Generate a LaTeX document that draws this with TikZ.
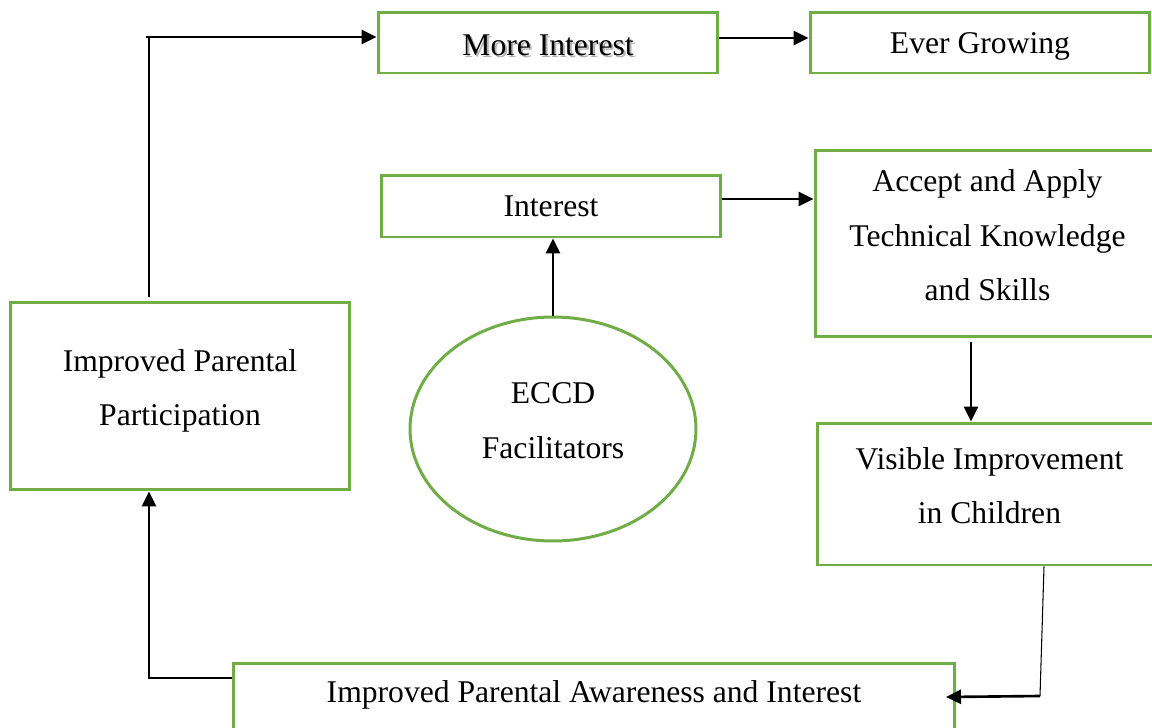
\documentclass[tikz,border=0pt]{standalone}
\usepackage{fontspec}
\setmainfont{Liberation Serif}
\usetikzlibrary{positioning, shapes.geometric, arrows.meta}

\definecolor{boxgreen}{RGB}{112,173,71}
% text with a soft grey copy behind it
\newcommand{\shadowtext}[1]{\makebox[0pt][l]{\hspace{1.2pt}\raisebox{-1.2pt}{\color{black!30}#1}}#1}
% struts to sit the lines a bit higher / lower in their boxes
\newcommand{\lowstrut}{\rule[-0.33cm]{0pt}{0pt}}
\newcommand{\highstrut}{\rule{0pt}{0.58cm}}

\begin{document}
\begin{tikzpicture}[x=0.02cm, y=-0.02cm,
    box/.style={draw=boxgreen, line width=1.7pt, inner sep=0pt, align=center,
        font=\fontsize{18}{31}\selectfont},
    flow/.style={line width=1.5pt, -{Triangle[length=3mm, width=2.8mm]}},
    link/.style={line width=0.6pt}]
    \clip (0,0) rectangle (1152,727);
    \fill[white] (0,0) rectangle (1152,727);

    % top row
    \node[box, minimum width=6.8cm, minimum height=1.22cm] (more) at (548,42.5) {\highstrut\shadowtext{More Interest}};
    \node[box, minimum width=6.8cm, minimum height=1.22cm] (grow) at (980,42.5) {\highstrut Ever Growing};

    % middle
    \node[box, minimum width=6.8cm, minimum height=1.24cm] (interest) at (551,206) {Interest};
    \node[box, minimum width=6.9cm, minimum height=3.74cm] (accept) at (987.5,243.5) {Accept and Apply\\Technical Knowledge\\and Skills\lowstrut};
    \node[box, minimum width=6.9cm, minimum height=2.84cm] (visible) at (989.5,494) {Visible Improvement\\in Children\lowstrut};
    \node[box, minimum width=6.8cm, minimum height=3.76cm] (parent) at (180,396) {Improved Parental\\Participation\lowstrut};
    \node[box, ellipse, minimum width=5.72cm, minimum height=4.48cm] (eccd) at (553,429) {ECCD\\Facilitators\lowstrut};

    % bottom, runs off the page
    \node[box, anchor=north, minimum width=14.44cm, text height=0.78cm, text depth=1cm, inner ysep=0pt] (aware) at (594,662) {Improved Parental Awareness and Interest};

    % corner points of the bent connectors
    \coordinate (upL) at (149,37);
    \coordinate (lowL) at (149,678);
    \coordinate (downR) at (1040,696);

    \draw[flow] (more.east |- 0,38) -- (grow.west |- 0,38);
    \draw[flow] (eccd.north) -- (interest.south -| eccd.north);
    \draw[flow] (interest.east |- 0,199) -- (accept.west |- 0,199);
    \draw[flow] (accept.south -| 971,0) ++(0,4) -- (visible.north -| 971,0);

    \draw[link] (parent.north -| upL) ++(0,-4) -- (upL);
    \draw[flow] (146,37) -- (more.west |- upL);

    \draw[link] (visible.south -| 1044,0) -- (downR);
    \draw[flow] (downR) -- (946,697);

    \draw[flow] (aware.west |- lowL) -- (lowL) -- (parent.south -| lowL);
\end{tikzpicture}
\end{document}
